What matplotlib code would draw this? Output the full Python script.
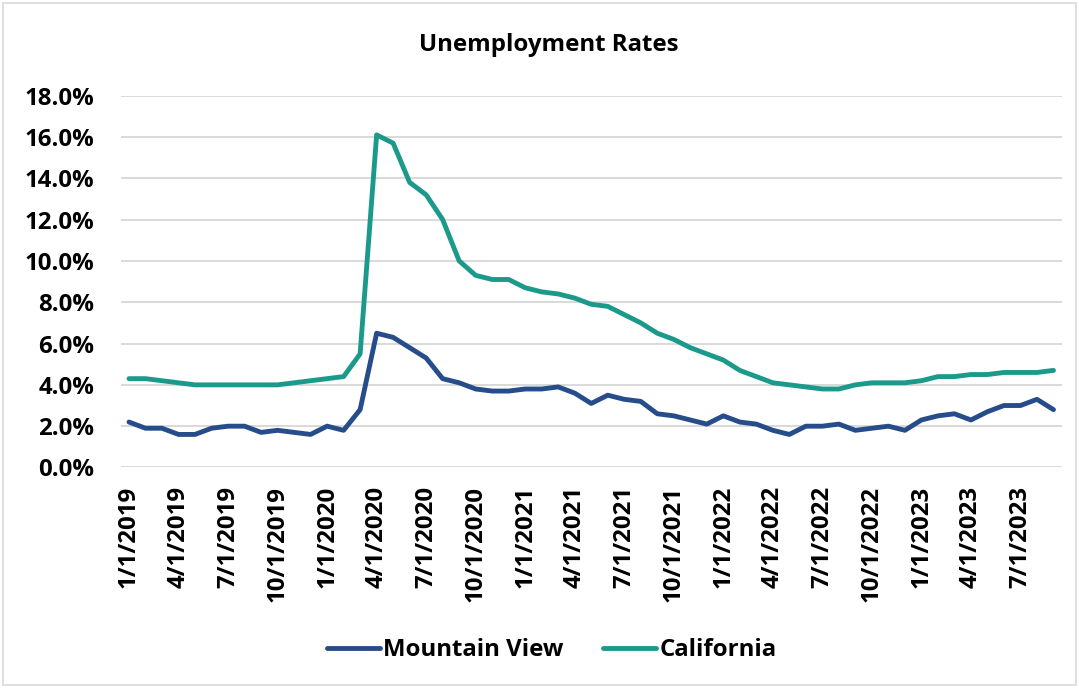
import matplotlib
matplotlib.use("Agg")
import matplotlib.pyplot as plt
from matplotlib.patches import Rectangle
import numpy as np

# monthly series, Jan 2019 .. Sep 2023 (percent)
months = [f"{m}/1/{y}" for y in range(2019, 2024) for m in range(1, 13)][:57]
mountain_view = [2.2, 1.9, 1.9, 1.6, 1.6, 1.9, 2.0, 2.0, 1.7, 1.8, 1.7, 1.6,
                 2.0, 1.8, 2.8, 6.5, 6.3, 5.8, 5.3, 4.3, 4.1, 3.8, 3.7, 3.7,
                 3.8, 3.8, 3.9, 3.6, 3.1, 3.5, 3.3, 3.2, 2.6, 2.5, 2.3, 2.1,
                 2.5, 2.2, 2.1, 1.8, 1.6, 2.0, 2.0, 2.1, 1.8, 1.9, 2.0, 1.8,
                 2.3, 2.5, 2.6, 2.3, 2.7, 3.0, 3.0, 3.3, 2.8]
california = [4.3, 4.3, 4.2, 4.1, 4.0, 4.0, 4.0, 4.0, 4.0, 4.0, 4.1, 4.2,
              4.3, 4.4, 5.5, 16.1, 15.7, 13.8, 13.2, 12.0, 10.0, 9.3, 9.1, 9.1,
              8.7, 8.5, 8.4, 8.2, 7.9, 7.8, 7.4, 7.0, 6.5, 6.2, 5.8, 5.5,
              5.2, 4.7, 4.4, 4.1, 4.0, 3.9, 3.8, 3.8, 4.0, 4.1, 4.1, 4.1,
              4.2, 4.4, 4.4, 4.5, 4.5, 4.6, 4.6, 4.6, 4.7]
yticks = np.arange(0, 19, 2)

plt.rcParams["font.family"] = ["Open Sans", "DejaVu Sans"]
plt.rcParams["font.weight"] = "bold"
FS = 17.3

fig = plt.figure(figsize=(10.79, 6.88), dpi=100)
fig.patches.append(Rectangle((0.003, 0.004), 0.994, 0.992, transform=fig.transFigure,
                             fill=False, edgecolor="#D9D9D9", lw=1.2))
ax = fig.add_axes([0.1119, 0.3205, 0.8721, 0.5405])

x = np.arange(len(months))
ax.plot(x, mountain_view, color="#264C8A", lw=3.5, label="Mountain View",
        solid_joinstyle="round", solid_capstyle="round")
ax.plot(x, california, color="#1B9A8B", lw=3.5, label="California",
        solid_joinstyle="round", solid_capstyle="round")

ax.set_xlim(-0.5, len(months) - 0.5)
ax.set_ylim(0, 18)
ax.set_yticks(yticks)
ax.set_yticklabels([f"{v:.1f}%" for v in yticks], fontsize=FS, fontweight="bold")
ax.set_xticks(x[::3])
ax.set_xticklabels(months[::3], rotation=90, fontsize=FS, fontweight="bold")
ax.tick_params(axis="both", length=0)
ax.tick_params(axis="y", pad=19)
ax.tick_params(axis="x", pad=13)
ax.grid(axis="y", color="#D9D9D9", lw=1.4)
ax.set_axisbelow(True)
for s in ax.spines.values():
    s.set_visible(False)

fig.text(0.509, 0.935, "Unemployment Rates", ha="center", va="center",
         fontsize=FS, fontweight="bold")
fig.legend(loc="center", bbox_to_anchor=(0.5116, 0.055), ncol=2, frameon=False,
           handlelength=2.2, handletextpad=0.15, columnspacing=1.65,
           prop={"weight": "bold", "size": FS})

fig.savefig("out.png", dpi=100)
